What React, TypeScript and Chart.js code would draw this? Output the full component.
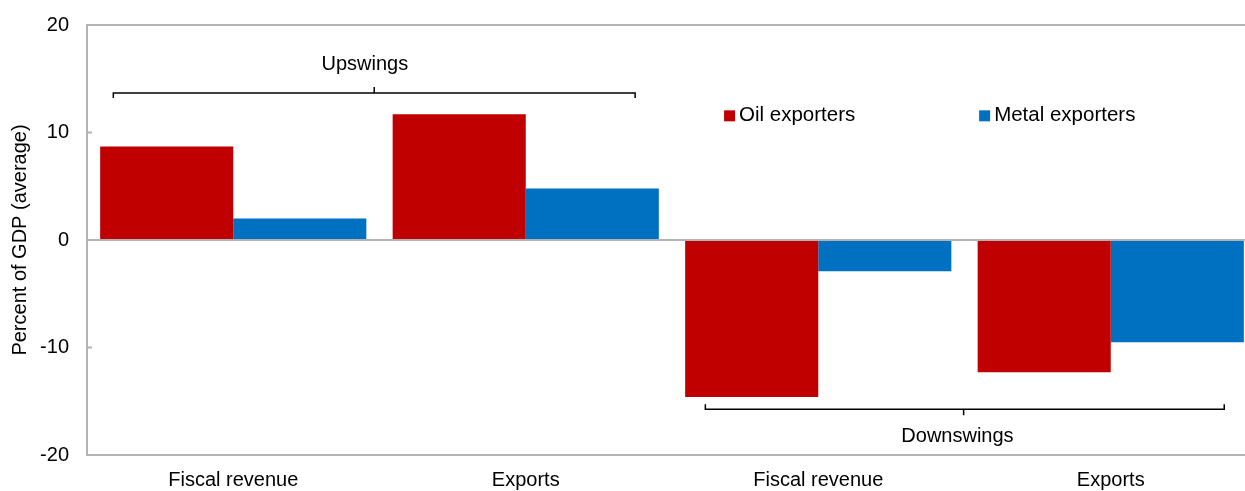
import React, { useEffect, useRef } from 'react';
import { Chart, registerables } from 'chart.js';

Chart.register(...registerables);

const categories = ['Fiscal revenue', 'Exports', 'Fiscal revenue', 'Exports'];
const oilExporters = [8.7, 11.7, -14.6, -12.3];
const metalExporters = [2.0, 4.8, -2.9, -9.5];
const seriesNames = ['Oil exporters', 'Metal exporters'];
const seriesColors = ['#C00000', '#0070C0'];
const yTickValues = [-20, -10, 0, 10, 20];
const groupLabels = ['Upswings', 'Downswings'];

const FONT = '"Liberation Sans", Arial, Helvetica, sans-serif';
const AXIS_GREY = '#b3b3b3';

// annotation placement (category-index units on x, value units on y)
const brackets = [
  { label: groupLabels[0], from: -0.41, to: 1.374, mid: 0.482, y: 13.67, dir: -1, textX: 0.45, textY: 16.3 },
  { label: groupLabels[1], from: 1.614, to: 3.388, mid: 2.497, y: -15.75, dir: 1, textX: 2.476, textY: -18.3 },
];
const legendItems = [
  { x: 1.678, y: 11.55 },
  { x: 2.55, y: 11.55 },
];

const annotationPlugin = {
  id: 'annotations',
  afterDatasetsDraw(chart: any) {
    const { ctx, scales } = chart;
    const xs = scales.x;
    const ys = scales.y;
    ctx.save();
    // inner tick marks on y axis
    ctx.strokeStyle = AXIS_GREY;
    ctx.lineWidth = 2;
    yTickValues.forEach((v) => {
      if (v === 0 || Math.abs(v) === 20) return;
      const py = ys.getPixelForValue(v);
      ctx.beginPath();
      ctx.moveTo(chart.chartArea.left, py);
      ctx.lineTo(chart.chartArea.left + 5, py);
      ctx.stroke();
    });
    // brackets
    ctx.strokeStyle = '#000';
    ctx.lineWidth = 1.5;
    ctx.fillStyle = '#000';
    ctx.font = `20px ${FONT}`;
    ctx.textAlign = 'center';
    ctx.textBaseline = 'middle';
    brackets.forEach((b) => {
      const x1 = xs.getPixelForValue(b.from);
      const x2 = xs.getPixelForValue(b.to);
      const xm = xs.getPixelForValue(b.mid);
      const py = ys.getPixelForValue(b.y);
      ctx.beginPath();
      ctx.moveTo(x1, py - b.dir * 5);
      ctx.lineTo(x1, py);
      ctx.lineTo(x2, py);
      ctx.lineTo(x2, py - b.dir * 5);
      ctx.moveTo(xm, py);
      ctx.lineTo(xm, py + b.dir * 6);
      ctx.stroke();
      ctx.fillText(b.label, xs.getPixelForValue(b.textX), ys.getPixelForValue(b.textY));
    });
    // legend
    ctx.textAlign = 'left';
    ctx.font = `20.5px ${FONT}`;
    legendItems.forEach((it, i) => {
      const px = xs.getPixelForValue(it.x);
      const py = ys.getPixelForValue(it.y);
      ctx.fillStyle = seriesColors[i];
      ctx.fillRect(px, py - 5.5, 11, 11);
      ctx.fillStyle = '#000';
      ctx.fillText(seriesNames[i], px + 15, py);
    });
    ctx.restore();
  },
};

export default function App() {
  const canvasRef = useRef<HTMLCanvasElement | null>(null);

  useEffect(() => {
    if (!canvasRef.current) return;
    const chart = new Chart(canvasRef.current, {
      type: 'bar',
      data: {
        labels: categories,
        datasets: [
          {
            label: seriesNames[0],
            data: oilExporters,
            backgroundColor: seriesColors[0],
            categoryPercentage: 0.91,
            barPercentage: 1,
          },
          {
            label: seriesNames[1],
            data: metalExporters,
            backgroundColor: seriesColors[1],
            categoryPercentage: 0.91,
            barPercentage: 1,
          },
        ],
      },
      options: {
        animation: false,
        responsive: false,
        maintainAspectRatio: false,
        layout: { padding: { top: 25, right: 1, left: 0, bottom: 0 } },
        plugins: {
          legend: { display: false },
          tooltip: { enabled: false },
        },
        scales: {
          x: {
            afterFit: (scale: any) => {
              scale.height = 36;
              scale.paddingLeft = 0;
              scale.paddingRight = 0;
            },
            grid: { display: false, drawTicks: false },
            border: { display: true, color: AXIS_GREY, width: 2 },
            ticks: {
              color: '#000',
              font: { family: FONT, size: 20 },
              padding: 13,
              maxRotation: 0,
            },
          },
          y: {
            min: -20,
            max: 20,
            afterFit: (scale: any) => {
              scale.width = 87;
              scale.paddingTop = 0;
              scale.paddingBottom = 0;
            },
            afterBuildTicks: (scale: any) => {
              scale.ticks = yTickValues.map((v) => ({ value: v }));
            },
            grid: {
              drawTicks: false,
              lineWidth: 2,
              color: (c: any) =>
                c.tick && (c.tick.value === 0 || c.tick.value === 20) ? AXIS_GREY : 'rgba(0,0,0,0)',
            },
            border: { display: true, color: AXIS_GREY, width: 2 },
            ticks: {
              color: '#000',
              font: { family: FONT, size: 20 },
              padding: 18,
            },
            title: {
              display: true,
              text: 'Percent of GDP (average)',
              color: '#000',
              font: { family: FONT, size: 20 },
              padding: { top: 8, bottom: 0 },
            },
          },
        },
      },
      plugins: [annotationPlugin],
    });
    return () => chart.destroy();
  }, []);

  return (
    <div
      style={{
        position: 'fixed',
        left: 0,
        top: 0,
        width: 1245,
        height: 491,
        overflow: 'hidden',
        background: '#fff',
      }}
    >
      <canvas ref={canvasRef} width={1258} height={491} style={{ width: 1258, height: 491 }} />
    </div>
  );
}
